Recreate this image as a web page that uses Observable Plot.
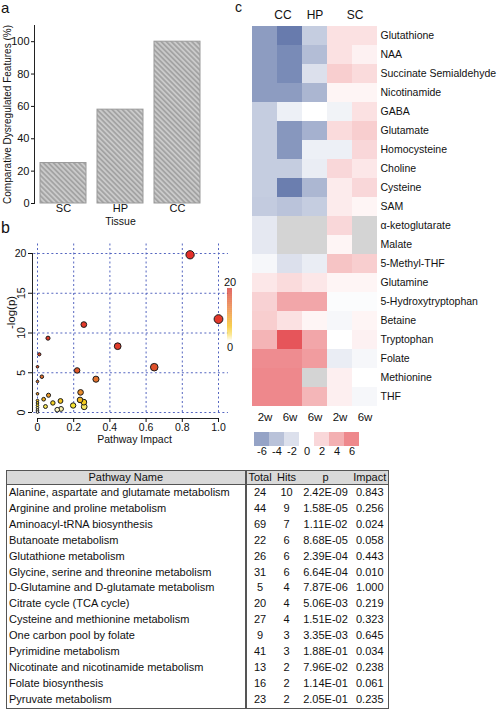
<!DOCTYPE html>
<html>
<head>
<meta charset="utf-8">
<script src="https://cdn.jsdelivr.net/npm/d3@7"></script>
<script src="https://cdn.jsdelivr.net/npm/@observablehq/plot@0.6"></script>
<style>
  body { margin: 0; background: #fff; font-family: "Liberation Sans", Arial, sans-serif; color: #111; }
  #root { position: relative; width: 500px; height: 709px; overflow: hidden; background: #fff; }
  .abs { position: absolute; }
  .plab { position: absolute; line-height: 16px; font-size: 16px; color: #111; }
  #tbl { position: absolute; left: 6px; top: 470px; border-collapse: collapse; table-layout: fixed; font-size: 11px; border: 1px solid #555; color: #111; }
  #tbl td, #tbl th { padding: 0; height: 15.9px; line-height: 15.9px; white-space: nowrap; text-align: center; overflow: hidden; }
  #tbl th { background: #d9d9d9; font-weight: normal; height: 13px; line-height: 13px; border-bottom: 1px solid #555; }
  #tbl .name { text-align: left; padding-left: 2px; border-right: 2px solid #555; }
  #tbl th.name { text-align: center; padding-left: 0; }
</style>
</head>
<body>
<svg width="0" height="0" style="position:absolute">
  <defs>
    <pattern id="hatch" width="3.6" height="3.6" patternUnits="userSpaceOnUse" patternTransform="rotate(-45)">
      <rect width="3.6" height="3.6" fill="#cacaca"></rect>
      <line x1="1.8" y1="0" x2="1.8" y2="3.6" stroke="#9c9c9c" stroke-width="1.5"></line>
    </pattern>
  </defs>
</svg>
<div id="root">
  <div class="plab" style="left:1px;top:0px;font-size:15px;line-height:15px;">a</div>
  <div class="plab" style="left:1px;top:220px;">b</div>
  <div class="plab" style="left:235px;top:0px;font-size:14px;line-height:14px;">c</div>
</div>
<script>
// ---------------- Panel a data ----------------
const tissues = ["SC", "HP", "CC"];
const dysregulatedPct = [25, 58, 100];
const barTicks = [0, 20, 40, 60, 80, 100];

// ---------------- Panel b data (pathway impact vs -log(p)) ----------------
const scatterImpact = [0.843, 1.000, 0.256, 0.058, 0.443, 0.010, 0.645, 0.219, 0.024, 0.323, 0.238, 0.061, 0.034, 0.235,
  0, 0, 0, 0, 0, 0, 0, 0, 0,
  0.085, 0.127, 0.044, 0.109, 0.130, 0.197, 0.256, 0.258];
const scatterNegLogP = [19.84, 11.75, 11.06, 9.35, 8.34, 7.32, 5.70, 5.29, 4.50, 4.19, 2.53, 2.17, 1.67, 1.58,
  5.75, 3.9, 2.35, 1.5, 1.2, 0.9, 0.6, 0.3, 0.05,
  1.2, 1.45, 0.75, 0.35, 0.45, 0.88, 1.3, 0.72];
const impactTicks = [0, 0.2, 0.4, 0.6, 0.8, 1.0];
const logPTicks = [0, 5, 10, 15, 20];

// ---------------- Panel c data (heatmap) ----------------
const metabolites = ["Glutathione", "NAA", "Succinate Semialdehyde", "Nicotinamide", "GABA", "Glutamate",
  "Homocysteine", "Choline", "Cysteine", "SAM", "α-ketoglutarate", "Malate", "5-Methyl-THF", "Glutamine",
  "5-Hydroxytryptophan", "Betaine", "Tryptophan", "Folate", "Methionine", "THF"];
const heatColumns = ["CC 2w", "CC 6w", "HP 6w", "SC 2w", "SC 6w"];
const heatCC2w = [-6.5, -6.5, -6.5, -6.5, -3.3, -3.3, -3.3, -3.3, -3.3, -3.4, -1.5, -1.5, -0.5, 1.2, 2.3, 2.5, 3.8, 5.8, 6.0, 6.0];
const heatCC6w = [-8.6, -7.6, -7.6, -6.5, -1.0, -6.8, -6.8, -3.3, -8.4, -3.9, null, null, -2.0, 1.8, 4.5, 1.5, 8.6, 5.8, 6.0, 6.0];
const heatHP6w = [-3.3, -4.3, -2.0, -4.8, 0.0, -5.1, -1.0, -1.2, -4.7, -3.3, null, null, -1.2, 1.2, 4.5, 0.5, 4.5, 5.0, null, 3.7];
const heatSC2w = [1.5, 1.5, 2.5, 0.5, -0.8, 1.8, -1.0, 2.0, 1.0, 1.0, 2.0, 0.5, 3.0, 0.5, -0.2, -0.5, 0.0, -1.2, 0.8, 0.8];
const heatSC6w = [1.5, 0.7, 1.8, 0.5, 1.5, 2.5, 2.0, 1.2, 2.0, 0.5, null, null, 2.5, 0.5, -0.2, 0.5, 0.7, -0.5, 0.0, -0.5];
const tissueGroups = ["CC", "HP", "SC"];
const legendValues = [-6, -4, -2, 0, 2, 4, 6];

// ---------------- Table data ----------------
const pathwayNames = ["Alanine, aspartate and glutamate metabolism", "Arginine and proline metabolism",
  "Aminoacyl-tRNA biosynthesis", "Butanoate metabolism", "Glutathione metabolism",
  "Glycine, serine and threonine metabolism", "D-Glutamine and D-glutamate metabolism",
  "Citrate cycle (TCA cycle)", "Cysteine and methionine metabolism", "One carbon pool by folate",
  "Pyrimidine metabolism", "Nicotinate and nicotinamide metabolism", "Folate biosynthesis", "Pyruvate metabolism"];
const pathwayTotal = [24, 44, 69, 22, 26, 31, 5, 20, 27, 9, 41, 13, 16, 23];
const pathwayHits = [10, 9, 7, 6, 6, 6, 4, 4, 4, 3, 3, 2, 2, 2];
const pathwayP = ["2.42E-09", "1.58E-05", "1.11E-02", "8.68E-05", "2.39E-04", "6.64E-04", "7.87E-06",
  "5.06E-03", "1.51E-02", "3.35E-03", "1.88E-01", "7.96E-02", "1.14E-01", "2.05E-01"];
const pathwayImpact = ["0.843", "0.256", "0.024", "0.058", "0.443", "0.010", "1.000",
  "0.219", "0.323", "0.645", "0.034", "0.238", "0.061", "0.235"];

const FONT = "Liberation Sans, Arial, sans-serif";
const root = document.getElementById("root");
function place(node, left, top) {
  const d = document.createElement("div");
  d.className = "abs";
  d.style.left = left + "px";
  d.style.top = top + "px";
  d.appendChild(node);
  root.appendChild(d);
}

// ---------------- Panel a ----------------
const barData = tissues.map((t, i) => ({tissue: t, pct: dysregulatedPct[i]}));
const plotA = Plot.plot({
  width: 210, height: 230,
  marginLeft: 34, marginRight: 4, marginTop: 25, marginBottom: 27,
  style: {fontFamily: FONT, fontSize: "11px", background: "transparent", color: "#111"},
  x: {domain: tissues, paddingInner: 0.2, paddingOuter: 0.1, label: null},
  y: {domain: [0, 110], label: null},
  marks: [
    Plot.barY(barData, {x: "tissue", y: "pct", fill: "url(#hatch)", stroke: "#9a9a9a", strokeWidth: 1}),
    Plot.frame({anchor: "left", stroke: "#222"}),
    Plot.axisY({ticks: barTicks, tickSize: 3, tickPadding: 2, fontSize: 11, label: null}),
    Plot.axisX({tickSize: 0, tickPadding: 1, fontSize: 11, label: null}),
    Plot.text(["Tissue"], {frameAnchor: "bottom", dy: 18, lineAnchor: "middle", textAnchor: "middle", fontSize: 10.5}),
    Plot.text(["Comparative Dysregulated Features (%)"], {frameAnchor: "left", dx: -27, rotate: -90, textAnchor: "middle", lineAnchor: "middle", fontSize: 10})
  ]
});
place(plotA, 0, 0);

// ---------------- Panel b ----------------
const scatterData = scatterImpact.map((x, i) => ({impact: x, nlp: scatterNegLogP[i]}))
  .sort((a, b) => b.impact - a.impact);
const pointColor = d3.scaleLinear()
  .domain([0, 0.4, 0.9, 1.4, 1.7, 2.5, 4.3, 5.5, 8, 20])
  .range(["#ffffff", "#fcf4bc", "#f6e22a", "#f3c71c", "#efac22", "#e98c2d", "#e2712e", "#df532a", "#e23c2a", "#e5302b"])
  .clamp(true);
const gridStyle = {stroke: "#5566c0", strokeWidth: 1, strokeDasharray: "2,2.5"};
const plotB = Plot.plot({
  width: 250, height: 222,
  marginLeft: 32, marginRight: 14, marginTop: 10, marginBottom: 32,
  style: {fontFamily: FONT, fontSize: "10.5px", background: "transparent", color: "#111"},
  x: {domain: [0, 1], range: [37, 218], label: null},
  y: {domain: [0, 20], range: [184, 25], label: null},
  r: {type: "sqrt", domain: [0, 1], range: [1.3, 4.4]},
  color: {type: "linear", domain: [0, 20], interpolate: t => pointColor(t * 20)},
  marks: [
    Plot.ruleY(logPTicks, {x1: -0.02, x2: 1.055, ...gridStyle}),
    Plot.ruleX(impactTicks, {y1: 0, y2: 21.4, ...gridStyle}),
    Plot.ruleX([0], {y1: 0, y2: 20, dx: -5, stroke: "#222"}),
    Plot.ruleY([0], {x1: 0, x2: 1, dy: 6, stroke: "#222"}),
    Plot.axisX({ticks: impactTicks, tickSize: 4, tickPadding: 1, fontSize: 10.5,
      tickFormat: d => d === 0 ? "0" : d.toFixed(1), label: null}),
    Plot.axisY({ticks: logPTicks, tickSize: 4, tickFormat: () => "", label: null}),
    Plot.text(logPTicks.filter(d => d < 20), {y: d => d, frameAnchor: "left", dx: -11, rotate: -90,
      textAnchor: "middle", lineAnchor: "middle", fontSize: 10.5}),
    Plot.text(logPTicks.filter(d => d === 20), {y: d => d, frameAnchor: "left", dx: -12,
      textAnchor: "middle", lineAnchor: "middle", fontSize: 10.5}),
    Plot.dot(scatterData, {x: "impact", y: "nlp", r: "impact", fill: "nlp", stroke: "#1a1a1a", strokeWidth: 1}),
    Plot.text(["-log(p)"], {frameAnchor: "left", dx: -21, dy: -16, rotate: -90,
      textAnchor: "middle", lineAnchor: "middle", fontSize: 11.5}),
    Plot.text(["Pathway Impact"], {frameAnchor: "bottom", dy: 21, textAnchor: "middle", lineAnchor: "middle", fontSize: 10.5})
  ]
});
place(plotB, 0, 228);

// colour bar for panel b
const barColor = d3.scaleLinear()
  .domain([0, 0.12, 0.28, 0.6, 1])
  .range(["#ffffff", "#fae37a", "#f5c21f", "#ec853a", "#d9403e"]);
const rampSteps = d3.range(0, 20, 0.25);
const plotBLegend = Plot.plot({
  width: 40, height: 90, marginLeft: 0, marginRight: 0, marginTop: 0, marginBottom: 0,
  style: {fontFamily: FONT, fontSize: "11px", background: "transparent", color: "#111"},
  x: {domain: [0, 1], range: [17, 22], axis: null},
  y: {domain: [0, 20], range: [71, 18], axis: null},
  color: {type: "linear", domain: [0, 20], interpolate: t => barColor(t)},
  marks: [
    Plot.rect(rampSteps, {x1: 0, x2: 1, y1: d => d, y2: d => d + 0.26, fill: d => d + 0.125}),
    Plot.text([20], {x: 0.5, y: d => d, dy: -6, text: d => String(d)}),
    Plot.text([0], {x: 0.5, y: d => d, dy: 6, text: d => String(d)})
  ]
});
place(plotBLegend, 210, 270);

// ---------------- Panel c (heatmap) ----------------
const heatSeries = [heatCC2w, heatCC6w, heatHP6w, heatSC2w, heatSC6w];
const heatCells = metabolites.flatMap((m, i) => heatColumns.map((c, j) => ({metabolite: m, column: c, value: heatSeries[j][i]})));
const divergent = d3.piecewise(d3.interpolateRgb, ["#4f66a0", "#ffffff", "#e2393f"]);
const heatColor = {type: "linear", domain: [-10, 10], interpolate: divergent};
const plotC = Plot.plot({
  width: 285, height: 430,
  marginLeft: 36, marginRight: 123, marginTop: 21, marginBottom: 19,
  style: {fontFamily: FONT, fontSize: "11px", background: "transparent", color: "#111"},
  x: {domain: heatColumns, range: [36, 162], padding: 0, label: null},
  y: {domain: metabolites, range: [21, 411], padding: 0, label: null},
  color: heatColor,
  marks: [
    Plot.cell(heatCells, {x: "column", y: "metabolite", fill: "#d4d4d4", inset: 0, shapeRendering: "crispEdges"}),
    Plot.cell(heatCells.filter(d => d.value != null), {x: "column", y: "metabolite", fill: "value", inset: 0, shapeRendering: "crispEdges"}),
    Plot.axisX({anchor: "bottom", tickSize: 0, tickPadding: 1, fontSize: 11.5, tickFormat: d => d.split(" ")[1], label: null}),
    Plot.axisY({anchor: "right", tickSize: 0, tickPadding: 3, fontSize: 10.5, label: null}),
    Plot.text([tissueGroups[0]], {x: () => "CC 6w", frameAnchor: "top", dx: -7, dy: -6, lineAnchor: "middle", fontSize: 12}),
    Plot.text([tissueGroups[1]], {x: () => "HP 6w", frameAnchor: "top", dx: 0, dy: -6, lineAnchor: "middle", fontSize: 12}),
    Plot.text([tissueGroups[2]], {x: () => "SC 6w", frameAnchor: "top", dx: -10, dy: -6, lineAnchor: "middle", fontSize: 12})
  ]
});
place(plotC, 215, 0);

// heatmap colour legend
const plotCLegend = Plot.plot({
  width: 160, height: 40,
  marginLeft: 37, marginRight: 15, marginTop: 7, marginBottom: 19,
  style: {fontFamily: FONT, fontSize: "11px", background: "transparent", color: "#111"},
  x: {domain: legendValues, range: [37, 145], padding: 0, label: null},
  color: heatColor,
  marks: [
    Plot.cell(legendValues, {x: d => d, fill: d => d, inset: 0}),
    Plot.axisX({tickSize: 0, tickPadding: 1, fontSize: 11, tickFormat: d => String(d), label: null})
  ]
});
place(plotCLegend, 215, 425);

// ---------------- Table ----------------
const tbl = document.createElement("table");
tbl.id = "tbl";
const colgroup = document.createElement("colgroup");
[239, 28, 26, 52, 37].forEach(w => { const c = document.createElement("col"); c.style.width = w + "px"; colgroup.appendChild(c); });
tbl.appendChild(colgroup);
const thead = document.createElement("tr");
["Pathway Name", "Total", "Hits", "p", "Impact"].forEach((h, i) => {
  const th = document.createElement("th");
  th.textContent = h;
  if (i === 0) th.className = "name";
  thead.appendChild(th);
});
tbl.appendChild(thead);
pathwayNames.forEach((name, i) => {
  const tr = document.createElement("tr");
  [name, pathwayTotal[i], pathwayHits[i], pathwayP[i], pathwayImpact[i]].forEach((v, j) => {
    const td = document.createElement("td");
    td.textContent = v;
    if (j === 0) td.className = "name";
    tr.appendChild(td);
  });
  tbl.appendChild(tr);
});
root.appendChild(tbl);
</script>
</body>
</html>
